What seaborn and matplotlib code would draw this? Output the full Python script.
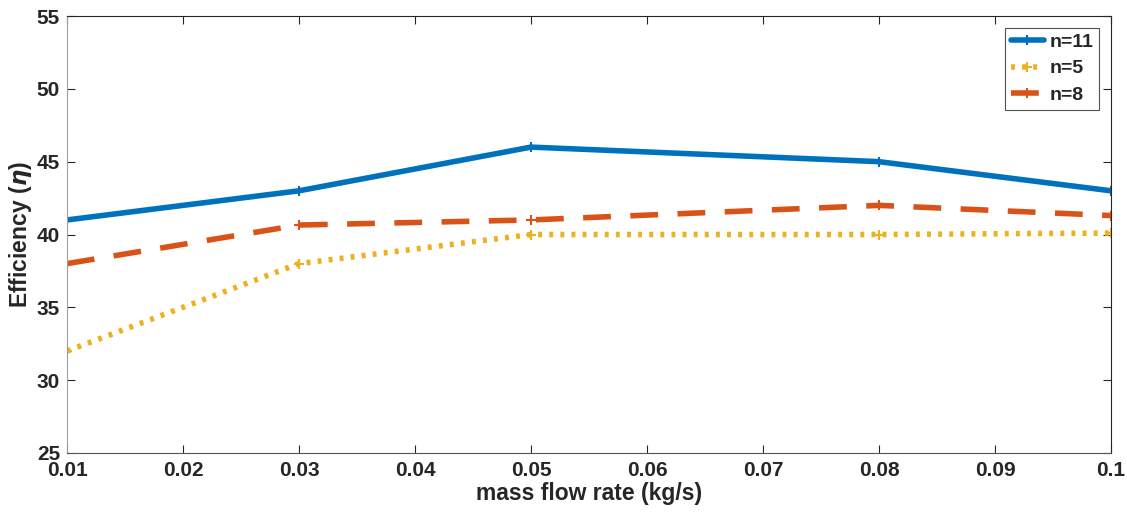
import matplotlib
matplotlib.use("Agg")
import matplotlib.pyplot as plt
import seaborn as sns
import pandas as pd

mass_flow = [0.01, 0.03, 0.05, 0.08, 0.1]
eff_n11 = [41.0, 43.0, 46.0, 45.0, 43.0]
eff_n5 = [32.0, 38.0, 40.0, 40.0, 40.1]
eff_n8 = [38.0, 40.65, 41.0, 42.0, 41.3]
series_names = ["n=11", "n=5", "n=8"]

sns.set_theme(style="white")
plt.rcParams['font.family'] = ['Liberation Sans', 'DejaVu Sans']
plt.rcParams['font.weight'] = 'bold'

df = pd.DataFrame({
    "x": mass_flow * 3,
    "y": eff_n11 + eff_n5 + eff_n8,
    "series": [series_names[0]] * 5 + [series_names[1]] * 5 + [series_names[2]] * 5,
})

fig = plt.figure(figsize=(11.27, 5.12), dpi=100)
ax = fig.add_axes([67 / 1127, 1 - 453 / 512, (1111 - 67) / 1127, (453 - 16) / 512])

colors = {"n=11": "#0072BD", "n=5": "#EDB120", "n=8": "#D95319"}
styles = {"n=11": "-", "n=5": (0, (0.7, 1.3)), "n=8": (0, (5, 3.5))}
for name in series_names:
    sub = df[df["series"] == name]
    sns.lineplot(data=sub, x="x", y="y", ax=ax, color=colors[name], linewidth=4,
                 linestyle=styles[name], marker="+", markersize=7, markeredgewidth=1.5,
                 markeredgecolor=colors[name], label=name)

ax.set_xlim(0.01, 0.1)
ax.set_ylim(25, 55)
ax.set_xticks([0.01, 0.02, 0.03, 0.04, 0.05, 0.06, 0.07, 0.08, 0.09, 0.1])
ax.set_xticklabels(["0.01", "0.02", "0.03", "0.04", "0.05", "0.06", "0.07", "0.08", "0.09", "0.1"])
ax.set_yticks([25, 30, 35, 40, 45, 50, 55])
for s in ax.spines.values():
    s.set_color("#262626")
    s.set_linewidth(0.8)
ax.spines['left'].set_color("#a0a0a0")
ax.spines['bottom'].set_color("#555555")
ax.tick_params(axis="both", which="major", labelsize=15, colors="#262626",
               direction="in", length=6, width=0.8, top=True, right=True,
               bottom=True, left=True)
ax.tick_params(axis="x", pad=6)
ax.tick_params(axis="y", pad=5)
for lbl in ax.get_xticklabels() + ax.get_yticklabels():
    lbl.set_fontweight("bold")
ax.set_xlabel("mass flow rate (kg/s)", fontsize=16.5, fontweight="bold", color="#262626", labelpad=1)
ax.set_ylabel("Efficiency ($\\eta$)", fontsize=16.5, fontweight="bold", color="#262626", labelpad=2)

leg = ax.legend(loc="upper right", fontsize=14, frameon=True, fancybox=False,
                edgecolor="#262626", handlelength=1.7, handletextpad=0.3,
                borderpad=0.3, labelspacing=0.45, borderaxespad=0.6)
leg.get_frame().set_linewidth(0.8)
for t in leg.get_texts():
    t.set_fontweight("bold")

fig.savefig("out.png", dpi=100, facecolor="white")
